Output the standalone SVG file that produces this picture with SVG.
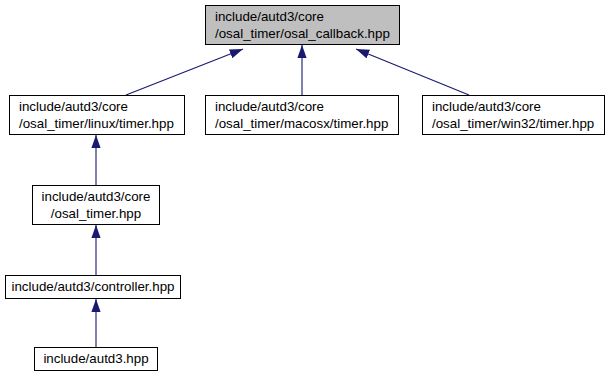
<svg xmlns="http://www.w3.org/2000/svg" width="609" height="380" viewBox="0 0 609 380">
  <style>
    .node rect { fill: #ffffff; stroke: #000000; stroke-width: 1; }
    .node.root rect { fill: #bfbfbf; }
    .node text { font-family: "Liberation Sans", Arial, sans-serif; font-size: 13.33px; fill: #000000; }
    .edges path { fill: none; stroke: #191970; stroke-width: 1.1; }
  </style>
  <defs>
    <marker id="arrow" viewBox="0 0 13.3 9.4" refX="13.3" refY="4.7" markerWidth="13.3" markerHeight="9.4" markerUnits="userSpaceOnUse" orient="auto">
      <polygon points="0,0 13.3,4.7 0,9.4" fill="#191970"/>
    </marker>
  </defs>
  <rect width="609" height="380" fill="#ffffff"/>

  <!-- include relations, pointing at the included header -->
  <g class="edges">
    <path d="M126,95 L243,49" marker-end="url(#arrow)"/>
    <path d="M302,95 L302,45" marker-end="url(#arrow)"/>
    <path d="M469,95 L356,49" marker-end="url(#arrow)"/>
    <path d="M96,185 L96,135" marker-end="url(#arrow)"/>
    <path d="M96,275 L96,225" marker-end="url(#arrow)"/>
    <path d="M96,347 L96,299" marker-end="url(#arrow)"/>
  </g>

  <g id="osal_callback" class="node root">
    <rect x="205.5" y="5.5" width="194" height="39"/>
    <text x="215" y="21">include/autd3/core</text>
    <text x="215" y="38">/osal_timer/osal_callback.hpp</text>
  </g>

  <g id="linux_timer" class="node">
    <rect x="9.5" y="95.5" width="175" height="39"/>
    <text x="19" y="111">include/autd3/core</text>
    <text x="19" y="128">/osal_timer/linux/timer.hpp</text>
  </g>

  <g id="macosx_timer" class="node">
    <rect x="205.5" y="95.5" width="193" height="39"/>
    <text x="215" y="111">include/autd3/core</text>
    <text x="215" y="128">/osal_timer/macosx/timer.hpp</text>
  </g>

  <g id="win32_timer" class="node">
    <rect x="422.5" y="95.5" width="182" height="39"/>
    <text x="432" y="111">include/autd3/core</text>
    <text x="432" y="128">/osal_timer/win32/timer.hpp</text>
  </g>

  <g id="osal_timer" class="node">
    <rect x="32.5" y="185.5" width="127" height="39"/>
    <text x="96" y="201" text-anchor="middle">include/autd3/core</text>
    <text x="96" y="218" text-anchor="middle">/osal_timer.hpp</text>
  </g>

  <g id="controller" class="node">
    <rect x="5.5" y="275.5" width="175" height="23"/>
    <text x="93" y="291" text-anchor="middle">include/autd3/controller.hpp</text>
  </g>

  <g id="autd3" class="node">
    <rect x="34.5" y="347.5" width="123" height="23"/>
    <text x="96" y="363" text-anchor="middle">include/autd3.hpp</text>
  </g>
</svg>
